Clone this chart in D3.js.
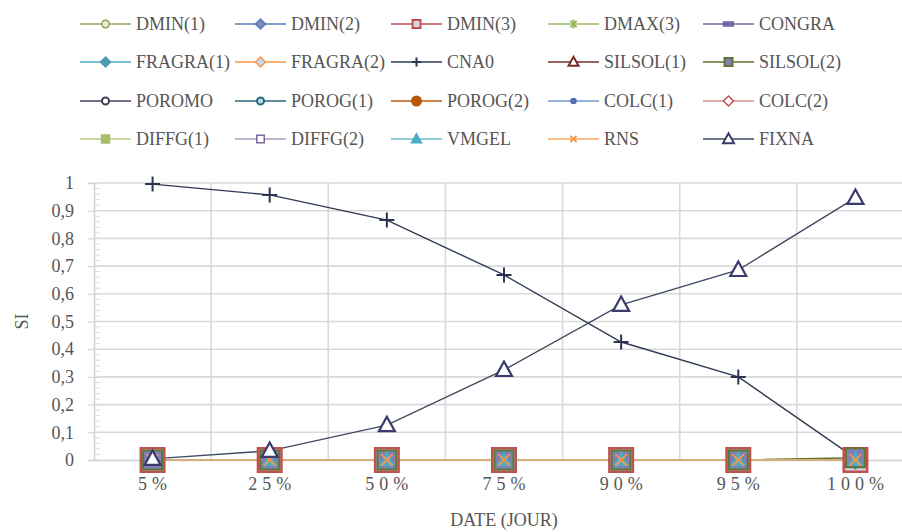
<!DOCTYPE html>
<html><head><meta charset="utf-8">
<script src="https://cdn.jsdelivr.net/npm/d3@7"></script>
<style>
html,body{margin:0;padding:0;background:#fff;}
svg{display:block;}
text{font-family:"Liberation Serif","DejaVu Serif",serif;fill:#555555;}
</style></head>
<body>
<svg id="chart" width="902" height="532"></svg>
<script>
// ---- data ----
const categories = ["5%","25%","50%","75%","90%","95%","100%"];
const yTicks = [0,0.1,0.2,0.3,0.4,0.5,0.6,0.7,0.8,0.9,1];
const yTickLabels = ["0","0,1","0,2","0,3","0,4","0,5","0,6","0,7","0,8","0,9","1"];
const seriesNames = ["DMIN(1)","DMIN(2)","DMIN(3)","DMAX(3)","CONGRA","FRAGRA(1)","FRAGRA(2)","CNA0","SILSOL(1)","SILSOL(2)",
  "POROMO","POROG(1)","POROG(2)","COLC(1)","COLC(2)","DIFFG(1)","DIFFG(2)","VMGEL","RNS","FIXNA"];
const dmin1   = [0,0,0,0,0,0,0];
const dmin2   = [0,0,0,0,0,0,0];
const dmin3   = [0,0,0,0,0,0,0];
const dmax3   = [0,0,0,0,0,0,0];
const congra  = [0,0,0,0,0,0,0];
const fragra1 = [0,0,0,0,0,0,0];
const fragra2 = [0,0,0,0,0,0,0];
const cna0    = [0.996,0.957,0.866,0.668,0.426,0.30,0.007];
const silsol1 = [0,0,0,0,0,0,0];
const silsol2 = [0,0,0,0,0,0,0.008];
const poromo  = [0,0,0,0,0,0,0];
const porog1  = [0,0,0,0,0,0,0];
const porog2  = [0,0,0,0,0,0,0];
const colc1   = [0,0,0,0,0,0,0];
const colc2   = [0,0,0,0,0,0,0];
const diffg1  = [0,0,0,0,0,0,0];
const diffg2  = [0,0,0,0,0,0,0];
const vmgel   = [0,0,0,0,0,0,0];
const rns     = [0,0,0,0,0,0,0];
const fixna   = [0.004,0.033,0.126,0.325,0.56,0.686,0.946];
const seriesValues = [dmin1,dmin2,dmin3,dmax3,congra,fragra1,fragra2,cna0,silsol1,silsol2,
  poromo,porog1,porog2,colc1,colc2,diffg1,diffg2,vmgel,rns,fixna];

// ---- styles ----
const styles = [
  {line:"#93A95E", m:"circle",  stroke:"#8A9F58", fill:"#E8EDD8", ps:12, ls:9},
  {line:"#4F81BD", m:"diamond", stroke:"#4F81BD", fill:"#8C84B4", ps:14, ls:10},
  {line:"#C0504D", m:"square",  stroke:"#C0504D", fill:"#D6D6E8", ps:26, ls:10, sw:2.5},
  {line:"#9BBB59", m:"star",    stroke:"#9BBB59", fill:"none",    ps:12, ls:9},
  {line:"#8064A2", m:"dash",    stroke:"#6F6AA8", fill:"#6F6AA8", ps:12, ls:10},
  {line:"#4BACC6", m:"diamond", stroke:"#4A9BB5", fill:"#4A9BB5", ps:18, ls:10},
  {line:"#F79646", m:"diamond", stroke:"#F79646", fill:"#C6D9F1", ps:14, ls:10},
  {line:"#2F3B52", m:"plus",    stroke:"#2A3350", fill:"none",    ps:15, ls:9, sw:2},
  {line:"#772C2A", m:"triangle",stroke:"#772C2A", fill:"#fff",    ps:12, ls:10, sw:2},
  {line:"#5F7530", m:"square",  stroke:"#5F7530", fill:"#7E80B8", ps:21, ls:10, sw:2},
  {line:"#4D3B62", m:"circle",  stroke:"#3F3F5F", fill:"#fff",    ps:10, ls:9, sw:2},
  {line:"#276A7C", m:"circle",  stroke:"#276A7C", fill:"#B7DDE8", ps:10, ls:9, sw:2},
  {line:"#B65708", m:"circle",  stroke:"#B65708", fill:"#B65708", ps:10, ls:11},
  {line:"#729ACA", m:"dot",     stroke:"#4F6FB5", fill:"#4F6FB5", ps:5,  ls:5},
  {line:"#D99594", m:"diamond", stroke:"#C0504D", fill:"#fff",    ps:10, ls:10},
  {line:"#B3CC82", m:"sqfill",  stroke:"#A5BE6A", fill:"#A5BE6A", ps:8,  ls:8},
  {line:"#A99BBD", m:"square",  stroke:"#8064A2", fill:"#fff",    ps:10, ls:9},
  {line:"#6FBDD1", m:"triangle",stroke:"#4BACC6", fill:"#4BACC6", ps:14, ls:10},
  {line:"#F9A866", m:"x",       stroke:"#F79646", fill:"none",    ps:16, ls:9, sw:2},
  {line:"#3F4A63", m:"triangle",stroke:"#3A3A6E", fill:"#fff",    ps:16, ls:11, sw:2.2}
];

function marker(g, type, size, stroke, fill, sw) {
  const s = size/2;
  sw = sw || 1.5;
  let el;
  switch (type) {
    case "circle": el = g.append("circle").attr("r", s - sw/2); break;
    case "dot": el = g.append("circle").attr("r", s); break;
    case "square": el = g.append("rect").attr("x",-s+sw/2).attr("y",-s+sw/2).attr("width",size-sw).attr("height",size-sw); break;
    case "sqfill": el = g.append("rect").attr("x",-s).attr("y",-s).attr("width",size).attr("height",size); break;
    case "diamond": el = g.append("path").attr("d",`M0,${-s}L${s},0L0,${s}L${-s},0Z`); break;
    case "triangle": el = g.append("path").attr("d",`M0,${-s*1.05}L${s},${s*0.75}L${-s},${s*0.75}Z`); break;
    case "plus": el = g.append("path").attr("d",`M${-s},0H${s}M0,${-s}V${s}`); fill="none"; break;
    case "x": el = g.append("path").attr("d",`M${-s*0.7},${-s*0.7}L${s*0.7},${s*0.7}M${s*0.7},${-s*0.7}L${-s*0.7},${s*0.7}`); fill="none"; break;
    case "star": el = g.append("path").attr("d",`M${-s*0.7},${-s*0.7}L${s*0.7},${s*0.7}M${s*0.7},${-s*0.7}L${-s*0.7},${s*0.7}M0,${-s}V${s}`); fill="none"; sw=2; break;
    case "dash": el = g.append("rect").attr("x",-s).attr("y",-2).attr("width",size).attr("height",4); break;
  }
  el.attr("fill", fill).attr("stroke", stroke).attr("stroke-width", sw);
  return el;
}

// ---- layout ----
const svg = d3.select("#chart");
const plot = {left:94, right:914, top:183, bottom:460};
const x = d3.scaleBand().domain(categories).range([plot.left, plot.right]);
const y = d3.scaleLinear().domain([0,1]).range([plot.bottom, plot.top]);
const textColor = "#555555";

// gridlines
const grid = svg.append("g");
grid.selectAll("line.h").data(yTicks.slice(1)).join("line")
  .attr("x1", plot.left).attr("x2", plot.right)
  .attr("y1", d=>y(d)).attr("y2", d=>y(d))
  .attr("stroke","#D9D9D9").attr("stroke-width",1.6);
grid.selectAll("line.v").data(categories.slice(1)).join("line")
  .attr("x1", d=>x(d)).attr("x2", d=>x(d))
  .attr("y1", plot.top).attr("y2", plot.bottom)
  .attr("stroke","#D9D9D9").attr("stroke-width",1.6);

// y axis
const yAxis = d3.axisLeft(y).tickValues(yTicks).tickSize(6).tickFormat((d,i)=>yTickLabels[i]);
const yg = svg.append("g").attr("transform",`translate(${plot.left},0)`).call(yAxis);
yg.select(".domain").attr("stroke","#D0D0D0").attr("stroke-width",1.5);
yg.selectAll(".tick line").attr("stroke","#D0D0D0");
yg.selectAll(".tick text").attr("x",-20).attr("font-size","18px")
  .attr("font-family","Liberation Serif, DejaVu Serif, serif").attr("fill",textColor);
// minor ticks inside
const minor = d3.range(0, 1.0001, 0.02);
svg.append("g").selectAll("line").data(minor).join("line")
  .attr("x1", plot.left).attr("x2", plot.left+6)
  .attr("y1", d=>y(d)).attr("y2", d=>y(d))
  .attr("stroke","#D9D9D9").attr("stroke-width",1);

// x axis
const xAxis = d3.axisBottom(x).tickSize(0).tickPadding(14);
const xg = svg.append("g").attr("transform",`translate(0,${plot.bottom})`).call(xAxis);
xg.select(".domain").attr("stroke","#D0D0D0").attr("stroke-width",1.5);
xg.selectAll(".tick text").attr("font-size","18px").attr("letter-spacing","5px").attr("dx","2.5")
  .attr("font-family","Liberation Serif, DejaVu Serif, serif").attr("fill",textColor).attr("dy","0.9em");

// axis titles
svg.append("text").attr("x", (plot.left+plot.right)/2).attr("y", 526).attr("text-anchor","middle")
  .attr("font-size","18px").text("DATE (JOUR)");
svg.append("text").attr("transform",`translate(28,${(plot.top+plot.bottom)/2}) rotate(-90)`)
  .attr("text-anchor","middle").attr("font-size","18px").text("SI");

// lines (all lines first)
const lineGen = d3.line().x((d,i)=>x(categories[i]) + x.bandwidth()/2).y(d=>y(d));
const linesG = svg.append("g");
seriesValues.forEach((vals, si) => {
  linesG.append("path").datum(vals).attr("d", lineGen)
    .attr("fill","none").attr("stroke", styles[si].line).attr("stroke-width", 1.4);
});
// markers
const mG = svg.append("g");
seriesValues.forEach((vals, si) => {
  const st = styles[si];
  vals.forEach((v, i) => {
    const g = mG.append("g").attr("transform",`translate(${x(categories[i]) + x.bandwidth()/2},${y(v)})`);
    marker(g, st.m, st.ps, st.stroke, st.fill, st.sw);
  });
});

// legend
const legCols = [80, 235, 391, 548, 703];
const legRows = [24, 62, 101, 139];
const lg = svg.append("g");
seriesNames.forEach((name, i) => {
  const st = styles[i];
  const cx = legCols[i % 5], cy = legRows[Math.floor(i / 5)];
  lg.append("line").attr("x1", cx).attr("x2", cx + 51).attr("y1", cy).attr("y2", cy)
    .attr("stroke", st.line).attr("stroke-width", 1.5);
  const g = lg.append("g").attr("transform",`translate(${cx+25.5},${cy})`);
  marker(g, st.m, st.ls, st.stroke, st.fill, Math.min(st.sw||1.5, 2));
  lg.append("text").attr("x", cx + 56).attr("y", cy).attr("dy","0.35em")
    .attr("font-size","18px").text(name);
});
</script>
</body></html>
